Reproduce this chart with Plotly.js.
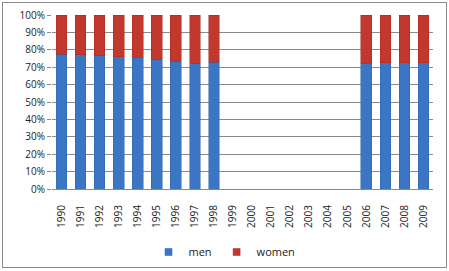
<!DOCTYPE html>
<html>
<head>
<meta charset="utf-8">
<script src="https://cdn.plot.ly/plotly-3.0.1.min.js"></script>
<style>
html,body{margin:0;padding:0;background:#fff;}
#wrap{position:relative;width:449px;height:271px;}
#frame{position:absolute;left:2px;top:2px;width:443px;height:264px;border:1px solid #8c8c8c;}
#chart{position:absolute;left:0;top:0;width:449px;height:271px;}
</style>
</head>
<body>
<div id="wrap"><div id="frame"></div><div id="chart"></div></div>
<script>
const years = ['1990','1991','1992','1993','1994','1995','1996','1997','1998','1999','2000','2001','2002','2003','2004','2005','2006','2007','2008','2009'];
const men = [77.5,77.1,76.5,76.0,75.6,74.4,73.3,72.1,72.9,null,null,null,null,null,null,null,72.3,72.7,72.7,72.5];
const women = men.map(v => v === null ? null : +(100 - v).toFixed(1));
const tickVals = [0,10,20,30,40,50,60,70,80,90,100];
const tickText = tickVals.map(v => v + '%');
const seriesNames = ['men','women'];
const seriesColors = ['#3b76c4','#c2372e'];

const font = {family: 'Open Sans, Liberation Sans, sans-serif', size: 10, color: '#222'};
const data = [
  {type:'bar', name:seriesNames[0], x:years, y:men, showlegend:false, marker:{color:seriesColors[0], line:{color:'#2f63a8', width:0.5}}},
  {type:'bar', name:seriesNames[1], x:years, y:women, showlegend:false, marker:{color:seriesColors[1], line:{color:'#a52a22', width:0.5}}},
  {type:'scatter', mode:'markers', name:seriesNames[0], x:[null], y:[null], marker:{symbol:'square', size:7, color:seriesColors[0], line:{color:'#2f63a8', width:0.5}}},
  {type:'scatter', mode:'markers', name:seriesNames[1], x:[null], y:[null], marker:{symbol:'square', size:7, color:seriesColors[1], line:{color:'#a52a22', width:0.5}}}
];
const layout = {
  width:449, height:271,
  margin:{l:52, r:16, t:15, b:82},
  barmode:'stack', bargap:0.44,
  paper_bgcolor:'rgba(0,0,0,0)', plot_bgcolor:'rgba(0,0,0,0)',
  font: font,
  showlegend:true,
  legend:{orientation:'h', xref:'container', yref:'container', x:0.5, xanchor:'center', y:0.07, yanchor:'middle', font:{family:font.family, size:11, color:'#222'}, itemwidth:30, traceorder:'normal', tracegroupgap:0, bgcolor:'rgba(0,0,0,0)'},
  xaxis:{type:'category', tickangle:-90, tickfont:{size:10}, showgrid:false, showline:false, ticks:'outside', ticklen:11, tickcolor:'rgba(0,0,0,0)', zeroline:false, automargin:false},
  yaxis:{range:[0,100], tickvals:tickVals, ticktext:tickText, showgrid:true, gridcolor:'#8a8a8a', gridwidth:1, zeroline:true, zerolinecolor:'#8a8a8a', showline:false, ticks:'outside', ticklen:4, tickcolor:'#8a8a8a', tickfont:{size:10}, automargin:false}
};
Plotly.newPlot('chart', data, layout, {displayModeBar:false, staticPlot:true});
</script>
</body>
</html>
